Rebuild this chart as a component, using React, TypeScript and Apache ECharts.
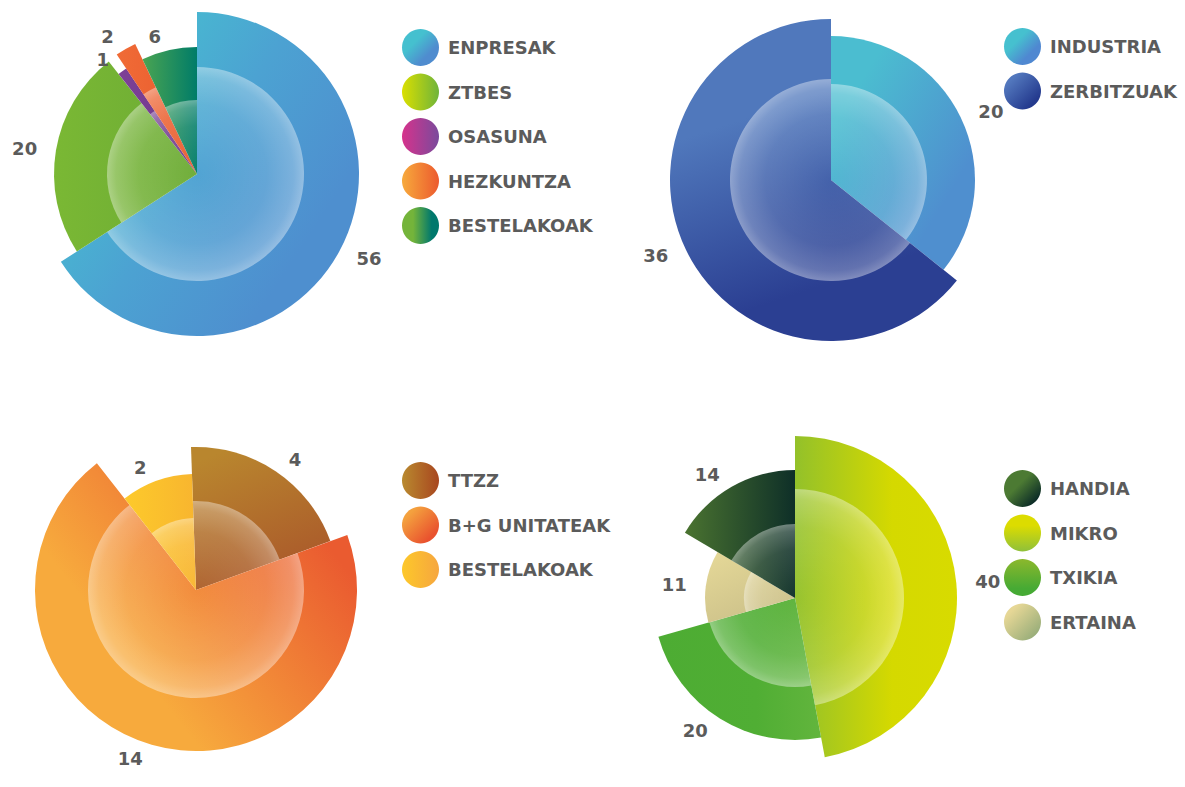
import React, { useEffect, useRef } from "react";
import * as echarts from "echarts";

// ---------- DATA ----------
const C1_NAMES = ["ENPRESAK", "ZTBES", "OSASUNA", "HEZKUNTZA", "BESTELAKOAK"];
const C1_VALUES = [56, 20, 1, 2, 6];

const C2_NAMES = ["INDUSTRIA", "ZERBITZUAK"];
const C2_VALUES = [20, 36];

const C3_NAMES = ["TTZZ", "B+G UNITATEAK", "BESTELAKOAK"];
const C3_VALUES = [4, 14, 2];

const C4_NAMES = ["MIKRO", "TXIKIA", "ERTAINA", "HANDIA"];
const C4_VALUES = [40, 20, 11, 14];
const C4_LEGEND = ["HANDIA", "MIKRO", "TXIKIA", "ERTAINA"];

// ---------- STYLE / LAYOUT ----------
type Stop = [number, string];
const lin = (x: number, y: number, x2: number, y2: number, stops: Stop[]) => ({
  type: "linear",
  x,
  y,
  x2,
  y2,
  colorStops: stops.map(([offset, color]) => ({ offset, color })),
});

const TEXT_COLOR = "#5b5b5b";
const FONT = "'DejaVu Sans', sans-serif";

// legendColors are given in the order of legendNames
const PANELS = [
  {
    names: C1_NAMES,
    values: C1_VALUES,
    legendNames: C1_NAMES,
    center: [197, 174],
    startAngle: 90,
    radii: [162, 143, 127, 144, 127],
    glass: [107, 90, 76, 96, 74],
    legendPos: { left: 402, top: 29 },
    sliceColors: [
      lin(0.2, 0.1, 0.9, 0.6, [[0, "#47bfd0"], [0.5, "#4ca2d2"], [1, "#4e8fcf"]]),
      lin(0, 0, 1, 0, [[0, "#7ab834"], [1, "#6cab35"]]),
      lin(0, 0, 1, 0, [[0, "#7e4096"], [1, "#6b3a8b"]]),
      lin(0, 0, 1, 0, [[0, "#f06b36"], [1, "#e85a2e"]]),
      lin(0, 0, 1, 0, [[0, "#4aa452"], [1, "#007c68"]]),
    ],
    legendColors: [
      lin(0, 0, 1, 1, [[0.35, "#45c0cf"], [0.7, "#4f8ccf"]]),
      lin(0, 0, 1, 0, [[0, "#dadf00"], [1, "#6fb43a"]]),
      lin(0, 0, 1, 0, [[0, "#d6338c"], [1, "#7a4a9c"]]),
      lin(0, 0, 1, 0, [[0, "#f7aa3c"], [1, "#ec5a2e"]]),
      lin(0, 0, 1, 0, [[0.3, "#74b43a"], [0.8, "#00786c"]]),
    ],
  },
  {
    names: C2_NAMES,
    values: C2_VALUES,
    legendNames: C2_NAMES,
    center: [831, 180],
    startAngle: 90,
    radii: [144, 161],
    glass: [96, 101],
    legendPos: { left: 1004, top: 28 },
    sliceColors: [
      lin(0, 0, 1, 1, [[0.2, "#4bbdd0"], [0.75, "#4f8fcf"]]),
      lin(0.2, 0, 0.5, 1, [[0.3, "#5078bc"], [0.85, "#2b3f92"]]),
    ],
    legendColors: [
      lin(0, 0, 1, 1, [[0.35, "#46c0cf"], [0.7, "#4f88d1"]]),
      lin(0, 0, 1, 1, [[0.2, "#5277bd"], [0.8, "#243a8e"]]),
    ],
  },
  {
    names: C3_NAMES,
    values: C3_VALUES,
    legendNames: C3_NAMES,
    center: [196, 590],
    startAngle: 92,
    radii: [143, 161, 116],
    glass: [89, 108, 72],
    legendPos: { left: 402, top: 462 },
    sliceColors: [
      lin(0.3, 0, 0.7, 1, [[0, "#b9862e"], [1, "#a9552a"]]),
      lin(0, 0.9, 1, 0.2, [[0.3, "#f7aa3d"], [0.9, "#ea5b30"]]),
      lin(0, 0, 1, 0, [[0, "#fdca2b"], [1, "#f8b52f"]]),
    ],
    legendColors: [
      lin(0, 0, 1, 0, [[0, "#b98a2f"], [1, "#a8461f"]]),
      lin(0, 0, 1, 1, [[0.2, "#f4a13e"], [0.8, "#e9522e"]]),
      lin(0, 0, 1, 0, [[0, "#fdc82a"], [1, "#f6a63f"]]),
    ],
  },
  {
    names: C4_NAMES,
    values: C4_VALUES,
    legendNames: C4_LEGEND,
    center: [795, 598],
    startAngle: 90,
    radii: [162, 142, 90, 128],
    glass: [109, 89, 51, 74],
    legendPos: { left: 1004, top: 470 },
    sliceColors: [
      lin(0, 0, 1, 0, [[0, "#93c12a"], [0.6, "#d5d900"], [1, "#d8db00"]]),
      lin(0, 0, 1, 0, [[0, "#4dac33"], [0.6, "#50ae34"], [1, "#62b53d"]]),
      lin(0, 0, 0.6, 1, [[0, "#e6d998"], [1, "#cbc089"]]),
      lin(0, 0, 1, 0, [[0, "#4a7330"], [1, "#0e2f28"]]),
    ],
    legendColors: [
      lin(0, 0, 1, 1, [[0.4, "#4c7a33"], [0.85, "#0b2b27"]]),
      lin(0, 0, 0, 1, [[0.3, "#dcdc00"], [1, "#8fc03a"]]),
      lin(0, 0, 0, 1, [[0, "#8cb82c"], [0.8, "#46aa34"]]),
      lin(0, 0, 1, 1, [[0.2, "#e6d796"], [0.85, "#9aae7a"]]),
    ],
  },
];

function buildOption() {
  const series: any[] = [];
  const legends: any[] = [];

  PANELS.forEach((p, pi) => {
    const [cx, cy] = p.center;
    p.names.forEach((_, si) => {
      // main slice
      series.push({
        type: "pie",
        name: `p${pi}-s${si}`,
        center: [cx, cy],
        radius: [0, p.radii[si]],
        startAngle: p.startAngle,
        clockwise: true,
        silent: true,
        avoidLabelOverlap: false,
        emphasis: { disabled: true },
        z: 2,
        itemStyle: { borderWidth: 0 },
        label: {
          show: true,
          position: "outside",
          formatter: "{c}",
          color: TEXT_COLOR,
          fontFamily: FONT,
          fontWeight: "bold",
          fontSize: 18,
        },
        labelLine: { show: false, length: 14, length2: 0 },
        data: p.names.map((n, j) => ({
          name: n,
          value: p.values[j],
          itemStyle:
            j === si
              ? { color: p.sliceColors[si], borderWidth: 0 }
              : { color: "rgba(0,0,0,0)", borderWidth: 0 },
          label: { show: j === si },
        })),
      });
      // glass overlay
      series.push({
        type: "pie",
        name: `p${pi}-g${si}`,
        center: [cx, cy],
        radius: [0, p.glass[si]],
        startAngle: p.startAngle,
        clockwise: true,
        silent: true,
        avoidLabelOverlap: false,
        emphasis: { disabled: true },
        z: 3,
        label: { show: false },
        labelLine: { show: false },
        itemStyle: { borderWidth: 0 },
        data: p.names.map((n, j) => ({
          name: n,
          value: p.values[j],
          itemStyle:
            j === si
              ? {
                  borderWidth: 0,
                  color: {
                    type: "radial",
                    x: cx,
                    y: cy,
                    r: p.glass[si],
                    global: true,
                    colorStops: [
                      { offset: 0, color: "rgba(255,255,255,0.03)" },
                      { offset: 0.65, color: "rgba(255,255,255,0.13)" },
                      { offset: 0.9, color: "rgba(255,255,255,0.26)" },
                      { offset: 1, color: "rgba(255,255,255,0.4)" },
                    ],
                  },
                }
              : { color: "rgba(0,0,0,0)", borderWidth: 0 },
        })),
      });
    });

    legends.push({
      orient: "vertical",
      left: p.legendPos.left,
      top: p.legendPos.top,
      icon: "circle",
      itemWidth: 37,
      itemHeight: 37,
      itemGap: 7.5,
      selectedMode: false,
      padding: 0,
      textStyle: {
        color: TEXT_COLOR,
        fontFamily: FONT,
        fontWeight: "bold",
        fontSize: 18,
        padding: [0, 0, 0, 4],
      },
      data: p.legendNames.map((n, k) => ({
        name: n,
        itemStyle: { color: p.legendColors[k], borderWidth: 0 },
      })),
    });
  });

  return {
    animation: false,
    backgroundColor: "#ffffff",
    legend: legends,
    series,
  };
}

export default function App() {
  const ref = useRef<HTMLDivElement>(null);
  useEffect(() => {
    if (!ref.current) return;
    const chart = echarts.init(ref.current, undefined, { renderer: "svg" });
    chart.setOption(buildOption() as any);
    return () => chart.dispose();
  }, []);
  return (
    <div
      ref={ref}
      style={{ position: "absolute", left: 0, top: 0, width: 1185, height: 787 }}
    />
  );
}
